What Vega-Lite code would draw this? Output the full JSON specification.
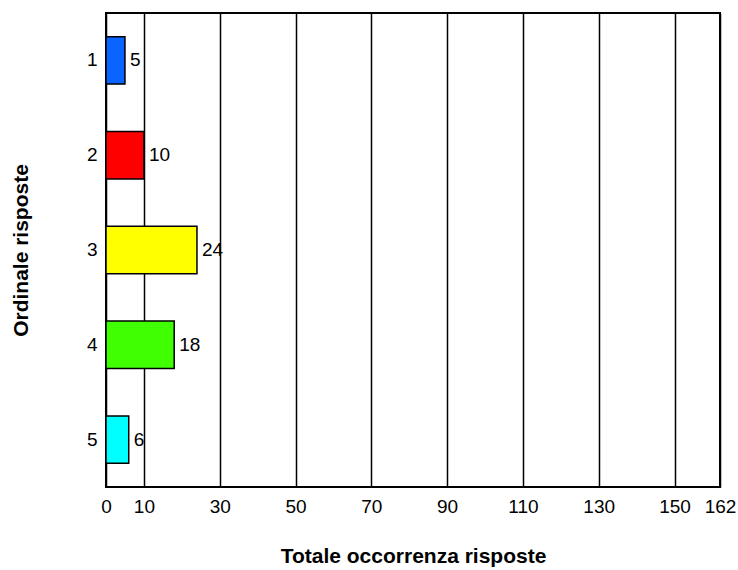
{
  "$schema": "https://vega.github.io/schema/vega-lite/v6.json",
  "width": 614,
  "height": 474,
  "autosize": {"type": "none"},
  "padding": {"left": 106, "top": 13, "right": 18, "bottom": 83},
  "background": "white",
  "config": {
    "font": "Liberation Sans",
    "view": {"stroke": "black", "strokeWidth": 2},
    "axis": {"labelFont": "Liberation Sans", "titleFont": "Liberation Sans"}
  },
  "data": {
    "values": [
      {"ordinale": "1", "totale": 5, "colore": "#0A64FF"},
      {"ordinale": "2", "totale": 10, "colore": "#FF0000"},
      {"ordinale": "3", "totale": 24, "colore": "#FFFF00"},
      {"ordinale": "4", "totale": 18, "colore": "#40FF00"},
      {"ordinale": "5", "totale": 6, "colore": "#00FFFF"}
    ]
  },
  "encoding": {
    "y": {
      "field": "ordinale",
      "type": "nominal",
      "sort": ["1", "2", "3", "4", "5"],
      "scale": {"paddingInner": 0.5, "paddingOuter": 0.25},
      "axis": {
        "title": "Ordinale risposte",
        "titleFontSize": 21,
        "titleFontWeight": "bold",
        "titleColor": "black",
        "titlePadding": 55,
        "labelFontSize": 19,
        "labelColor": "black",
        "labelPadding": 9,
        "ticks": false,
        "domain": false,
        "grid": false
      }
    },
    "x": {
      "field": "totale",
      "type": "quantitative",
      "scale": {"domain": [0, 162], "nice": false, "zero": true},
      "axis": {
        "title": "Totale occorrenza risposte",
        "titleFontSize": 21,
        "titleFontWeight": "bold",
        "titleColor": "black",
        "titlePadding": 29,
        "values": [0, 10, 30, 50, 70, 90, 110, 130, 150, 162],
        "labelFontSize": 19,
        "labelColor": "black",
        "labelPadding": 10,
        "labelFlush": false,
        "labelOverlap": false,
        "ticks": false,
        "domain": false,
        "grid": true,
        "gridColor": "black",
        "gridWidth": 1.5,
        "gridOpacity": 1
      }
    }
  },
  "layer": [
    {
      "mark": {"type": "bar", "stroke": "black", "strokeWidth": 1.5},
      "encoding": {
        "color": {"field": "colore", "type": "nominal", "scale": null}
      }
    },
    {
      "mark": {"type": "text", "align": "left", "baseline": "middle", "dx": 5, "fontSize": 19, "color": "black"},
      "encoding": {"text": {"field": "totale", "type": "quantitative"}}
    }
  ]
}
